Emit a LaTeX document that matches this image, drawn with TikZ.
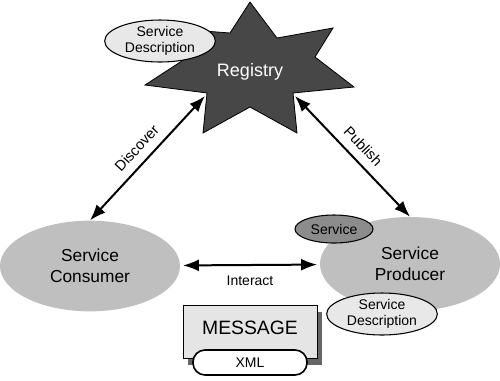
\documentclass[tikz,border=0pt]{standalone}
\usepackage{fontspec}
\setmainfont{Liberation Sans}
\usetikzlibrary{arrows.meta,shapes.geometric,shadows}

\begin{document}
\begin{tikzpicture}[x=0.75pt,y=-0.75pt,
  party/.style={ellipse,fill=black!25,minimum width=135pt,minimum height=68pt,inner sep=0pt,align=center,font=\fontsize{13}{15.5}\selectfont},
  tag/.style={ellipse,draw,line width=0.8pt,fill=black!9,minimum width=83pt,minimum height=31.5pt,inner sep=0pt,align=center,font=\fontsize{10.5}{11.5}\selectfont},
  arr/.style={line width=1.5pt,{Latex[length=12pt,width=9pt]}-{Latex[length=12pt,width=9pt]}},
  lbl/.style={font=\fontsize{11}{13}\selectfont}]
  \fill[white] (0,0) rectangle (500,380);
  \useasboundingbox (0,0) rectangle (500,380);
  % registry star
  \fill[black!72,draw=black,line width=0.6pt] (250,2) -- (277,38) -- (333,28) -- (315,57) -- (354,87) -- (293,93) -- (297,133)
    -- (250,107) -- (203,133) -- (207,93) -- (145,85) -- (188,57) -- (165,28) -- (230,33) -- cycle;
  \node[text=white,font=\fontsize{13.5}{15}\selectfont] (reg) at (250,72) {Registry};
  \coordinate (regsw) at (205,96);
  \coordinate (regse) at (295,96);
  \node[tag] (regdesc) at (160,41) {Service\\Description};
  % consumer and producer
  \node[party] (cons) at (90,266) {Service\\Consumer};
  \node[party,minimum height=70.5pt] (prod) at (410,264) {Service\\Producer};
  \node[tag,fill=black!45,minimum width=58.5pt,minimum height=21pt,font=\fontsize{10.5}{12}\selectfont] (svc) at (334,229) {Service};
  \node[tag] (proddesc) at (382,314) {Service\\Description};
  % connections
  \draw[arr] (cons.north) -- node[lbl,midway,above=3pt,sloped] {Discover} (regsw);
  \draw[arr] (regse) -- node[lbl,midway,above=3pt,sloped] {Publish} (prod.north);
  \draw[arr,shorten <=2pt,shorten >=2pt] (cons) -- node[midway,below=4pt,font=\fontsize{10.5}{12}\selectfont] {Interact} (prod);
  % message
  \node[draw,line width=0.6pt,fill=black!10,minimum width=100.5pt,minimum height=39.75pt,
    drop shadow={shadow xshift=4pt,shadow yshift=-5pt,fill=black!60,opacity=1},
    font=\fontsize{14.5}{16}\selectfont,text depth=6pt] (msg) at (250,331.5) {MESSAGE};
  \node[draw,line width=1.2pt,fill=white,rounded corners=9pt,minimum width=85.5pt,minimum height=18.75pt,
    font=\fontsize{10.5}{12}\selectfont] (xml) at (250,362.5) {XML};
\end{tikzpicture}
\end{document}
